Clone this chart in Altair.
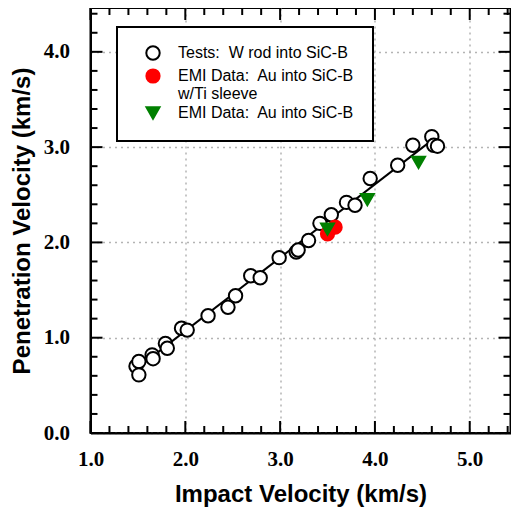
import altair as alt
import pandas as pd

# ---------------- data ----------------
tests_x = [1.48, 1.51, 1.51, 1.65, 1.66, 1.79, 1.81, 1.96, 2.02, 2.24,
           2.45, 2.53, 2.69, 2.79, 2.99, 3.17, 3.19, 3.30, 3.42, 3.54,
           3.70, 3.79, 3.95, 4.24, 4.40, 4.60, 4.62, 4.66]
tests_y = [0.70, 0.75, 0.61, 0.82, 0.78, 0.94, 0.89, 1.10, 1.08, 1.23,
           1.32, 1.44, 1.65, 1.63, 1.84, 1.90, 1.92, 2.02, 2.20, 2.29,
           2.42, 2.39, 2.67, 2.81, 3.02, 3.11, 3.02, 3.01]
ti_x = [3.50, 3.58]
ti_y = [2.09, 2.16]
au_x = [3.50, 3.92, 4.46]
au_y = [2.14, 2.45, 2.84]
fit_x = [1.48, 4.65]
fit_y = [0.67, 3.11]

series_names = ["Tests:\u00a0 W rod into SiC-B\u00a0\u00a0",
                "EMI Data:\u00a0 Au into SiC-B|w/Ti sleeve",
                "EMI Data:\u00a0 Au into SiC-B"]
series_shapes = ["circle", "circle", "triangle-down"]
series_fill = ["white", "#ff0000", "#008000"]
series_stroke = ["black", "#ff0000", "#008000"]
series_size = [180, 170, 200]

x_major = [1.0, 2.0, 3.0, 4.0, 5.0]
x_minor = [1.2, 1.4, 1.6, 1.8, 2.2, 2.4, 2.6, 2.8, 3.2, 3.4, 3.6, 3.8,
           4.2, 4.4, 4.6, 4.8, 5.2, 5.4]
y_major = [0.0, 1.0, 2.0, 3.0, 4.0]
y_minor = [0.2, 0.4, 0.6, 0.8, 1.2, 1.4, 1.6, 1.8, 2.2, 2.4, 2.6, 2.8,
           3.2, 3.4, 3.6, 3.8, 4.2, 4.4]

# ---------------- layout ----------------
W, H = 420, 425
XDOM = [1.0, 5.43]
YDOM = [0.0, 4.46]
MAJ, MIN = 12, 7

xscale = alt.Scale(domain=XDOM, nice=False, zero=False)
yscale = alt.Scale(domain=YDOM, nice=False, zero=False)

pts = pd.DataFrame({
    "x": tests_x + ti_x + au_x,
    "y": tests_y + ti_y + au_y,
    "series": [series_names[0]] * len(tests_x)
              + [series_names[1]] * len(ti_x)
              + [series_names[2]] * len(au_x),
})
fit = pd.DataFrame({"x": fit_x, "y": fit_y})

x_axis = alt.Axis(values=x_major, format=".1f", labelFlush=False,
                  title="Impact Velocity (km/s)", labelPadding=15, titlePadding=13)
y_axis = alt.Axis(values=y_major, format=".1f", labelFlush=False,
                  title="Penetration Velocity (km/s)", labelPadding=21, titlePadding=9)

line = alt.Chart(fit).mark_line(color="black", strokeWidth=2).encode(
    x=alt.X("x:Q", scale=xscale, axis=x_axis),
    y=alt.Y("y:Q", scale=yscale, axis=y_axis),
)

leg = alt.Legend(title=None, labelExpr="split(datum.label, '|')")
points = alt.Chart(pts).mark_point(strokeWidth=2, opacity=1, filled=False).encode(
    x=alt.X("x:Q", scale=xscale, axis=x_axis),
    y=alt.Y("y:Q", scale=yscale, axis=y_axis),
    shape=alt.Shape("series:N", scale=alt.Scale(domain=series_names, range=series_shapes), legend=leg),
    fill=alt.Fill("series:N", scale=alt.Scale(domain=series_names, range=series_fill), legend=leg),
    stroke=alt.Stroke("series:N", scale=alt.Scale(domain=series_names, range=series_stroke), legend=leg),
    size=alt.Size("series:N", scale=alt.Scale(domain=series_names, range=series_size), legend=leg),
)


def xticks(vals, length):
    df = pd.DataFrame({"v": vals})
    base = alt.Chart(df).mark_rule(color="black", strokeWidth=2)
    bottom = base.encode(x=alt.X("v:Q", scale=xscale, axis=x_axis),
                         y=alt.value(H), y2=alt.value(H - length))
    top = base.encode(x=alt.X("v:Q", scale=xscale, axis=x_axis),
                      y=alt.value(0), y2=alt.value(length))
    return [bottom, top]


def yticks(vals, length):
    df = pd.DataFrame({"v": vals})
    base = alt.Chart(df).mark_rule(color="black", strokeWidth=2)
    left = base.encode(y=alt.Y("v:Q", scale=yscale, axis=y_axis),
                       x=alt.value(0), x2=alt.value(length))
    right = base.encode(y=alt.Y("v:Q", scale=yscale, axis=y_axis),
                        x=alt.value(W), x2=alt.value(W - length))
    return [left, right]


layers = [line] + xticks(x_major, MAJ) + xticks(x_minor, MIN) \
    + yticks(y_major, MAJ) + yticks(y_minor, MIN) + [points]

chart = alt.layer(*layers).properties(
    width=W, height=H,
    autosize=alt.AutoSizeParams(type="none"),
    padding={"left": 82.5, "top": 0, "right": 0, "bottom": 74},
).configure_view(
    stroke="black", strokeWidth=2
).configure_axis(
    domainColor="black", domainWidth=2,
    ticks=False, tickSize=0,
    labelFont="Liberation Serif", labelFontSize=21, labelFontWeight="bold", labelColor="black",
    titleFont="Liberation Sans", titleFontSize=24, titleFontWeight="bold", titleColor="black",
    grid=True, gridColor="#b4b4b4", gridDash=[2, 4], gridWidth=1.5,
).configure_legend(
    orient="none", legendX=26.5, legendY=19,
    strokeColor="black", strokeWidth=2, fillColor="white",
    padding=18, labelFont="Liberation Sans", labelFontSize=16, labelColor="black",
    labelOffset=17, symbolOffset=10, rowPadding=1, labelLimit=400,
    symbolStrokeWidth=2,
)

chart.save("out.html", embed_options={"renderer": "svg", "actions": False})
